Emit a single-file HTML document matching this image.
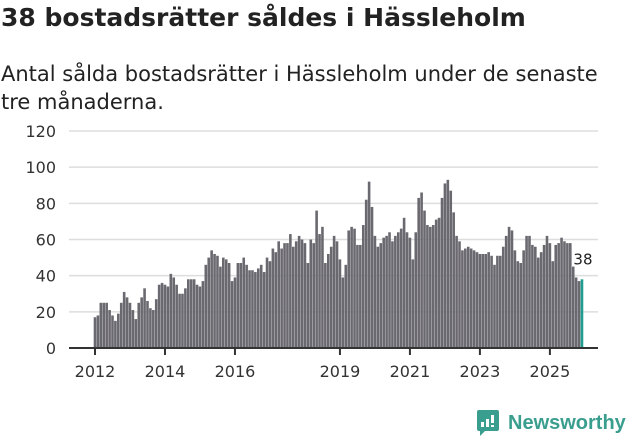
<!DOCTYPE html>
<html><head><meta charset="utf-8">
<style>
body{margin:0;width:631px;height:439px;background:#fff;font-family:"DejaVu Sans","Liberation Sans",sans-serif;overflow:hidden;position:relative}
h1{position:absolute;left:1px;top:3px;margin:0;font-size:25px;font-weight:bold;color:#222;white-space:nowrap}
p{position:absolute;left:1px;top:60px;margin:0;font-size:21px;line-height:28px;color:#222;width:625px;white-space:nowrap}
svg{position:absolute;left:0;top:0}
</style></head>
<body>
<h1>38 bostadsrätter såldes i Hässleholm</h1>
<p>Antal sålda bostadsrätter i Hässleholm under de senaste<br>tre månaderna.</p>
<svg id="chart" width="631" height="439"></svg>
<script>
const years=[2012,2014,2016,2019,2021,2023,2025];
const yTicks=[0,20,40,60,80,100,120];
const values=[17,18,25,25,25,21,18,15,19,25,31,28,
25,21,16,25,28,33,26,22,21,27,35,36,
35,34,41,39,35,30,30,33,38,38,38,35,
34,37,46,50,54,52,51,45,50,49,47,37,
39,47,47,50,46,43,43,42,44,46,42,50,
48,55,53,59,55,58,58,63,56,59,62,60,
58,47,60,58,76,63,67,47,52,56,62,59,
49,39,46,65,67,66,57,57,68,82,92,78,
62,56,58,61,62,64,59,62,64,66,72,64,
61,49,64,83,86,76,68,67,68,71,72,83,
91,93,87,75,62,59,54,55,56,55,54,53,
52,52,52,53,51,46,51,51,56,62,67,65,
54,48,47,54,62,62,57,56,50,53,57,62,
58,48,57,58,61,59,58,58,45,39,37,38];
const NS='http://www.w3.org/2000/svg';
const svg=document.getElementById('chart');
const x0=95,step=2.916,yBase=348,yTop=131;
const xs=i=>x0+i*step;
const ys=v=>yBase-(v/120)*(yBase-yTop);
const FF='DejaVu Sans, Liberation Sans, sans-serif';
function mk(t,a){const e=document.createElementNS(NS,t);for(const k in a)e.setAttribute(k,a[k]);svg.appendChild(e);return e;}
yTicks.forEach(v=>{
  if(v>0){const g=mk('line',{x1:69,x2:598,y1:ys(v),y2:ys(v),stroke:'#ddd','stroke-width':1.5});
  
  }
  const t=mk('text',{x:56,y:ys(v)+6,'text-anchor':'end','font-size':16,fill:'#333','font-family':FF});
  t.textContent=v;
  
  
});
values.forEach((v,i)=>{
  const last=i===values.length-1;
  const r=mk('rect',{x:xs(i)-1.3,y:ys(v),width:2.6,height:yBase-ys(v),fill:last?'#1f9e8f':'#6a696f'});
  
  
});
const ax=mk('line',{x1:69,x2:598,y1:yBase,y2:yBase,stroke:'#333','stroke-width':2});


years.forEach(y=>{
  const x=xs((y-2012)*12);
  const tk=mk('line',{x1:x,x2:x,y1:yBase,y2:yBase+7,stroke:'#333','stroke-width':2});
  
  
  const t=mk('text',{x:x,y:377,'text-anchor':'middle','font-size':16,fill:'#333','font-family':FF});
  t.textContent=y;
  
  
});
const lv=values[values.length-1];
const lb=mk('text',{x:xs(values.length-1)+1,y:ys(lv)-15,'text-anchor':'middle','font-size':15,fill:'#222','font-family':FF,stroke:'#fff','stroke-width':3,'paint-order':'stroke'});
lb.textContent=lv;


</script>
<div style="position:absolute;left:476px;top:409px;display:flex;align-items:center">
<svg width="24" height="28" viewBox="0 0 24 28" style="position:static"><path d="M3 1h18a2 2 0 0 1 2 2v17a2 2 0 0 1-2 2H9l-5 5v-5H3a2 2 0 0 1-2-2V3a2 2 0 0 1 2-2z" fill="#3a9e8f"/><rect x="5" y="13" width="3" height="5" fill="#fff"/><rect x="10" y="10" width="3" height="8" fill="#fff"/><rect x="15" y="6" width="3" height="8" fill="#fff"/><rect x="15" y="16" width="3" height="2" fill="#fff"/></svg>
<span style="color:#3a9e8f;font-size:20px;font-family:'Liberation Sans',sans-serif;font-weight:bold;margin-left:8px">Newsworthy</span>
</div>
</body></html>
